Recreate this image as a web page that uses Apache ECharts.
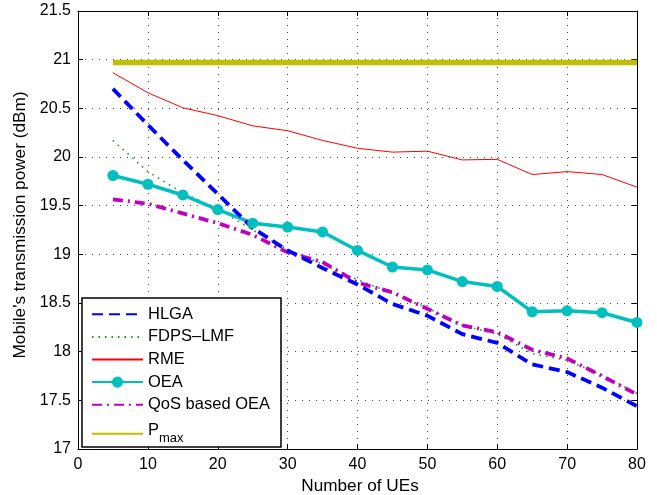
<!DOCTYPE html>
<html><head><meta charset="utf-8">
<script src="https://cdn.jsdelivr.net/npm/echarts@6/dist/echarts.min.js"></script>
<style>html,body{margin:0;padding:0;background:#fff}#c{width:657px;height:495px}</style>
</head><body><div id="c"></div>
<script>
const ues = [5,10,15,20,25,30,35,40,45,50,55,60,65,70,75,80];
const hlga = [20.70,20.33,19.97,19.62,19.27,19.04,18.86,18.69,18.49,18.37,18.18,18.09,17.87,17.79,17.63,17.44];
const fdps = [20.17,19.85,19.63,19.47,19.25,19.05,18.90,18.74,18.60,18.45,18.27,18.18,17.98,17.91,17.76,17.57];
const rme  = [20.866,20.66,20.506,20.425,20.32,20.27,20.17,20.09,20.05,20.06,19.97,19.976,19.82,19.85,19.82,19.69];
const oea  = [19.81,19.72,19.61,19.46,19.32,19.28,19.23,19.04,18.87,18.84,18.72,18.67,18.41,18.42,18.40,18.30];
const qos  = [19.565,19.52,19.42,19.32,19.20,19.02,18.92,18.71,18.61,18.44,18.27,18.20,18.02,17.93,17.75,17.56];
const pmax = ues.map(() => 20.97);
const yTicks = [17,17.5,18,18.5,19,19.5,20,20.5,21,21.5];

const pair = a => ues.map((x,i)=>[x,a[i]]);
const font = 'Liberation Sans, Arial, Helvetica, sans-serif';
const chart = echarts.init(document.getElementById('c'), null, {renderer:'canvas'});
const grid = {left:78, right:20, top:11, bottom:46, containLabel:false, outerBoundsMode:'none'};
const gridLine = {show:true, lineStyle:{color:'#444', type:[1,6], width:1}};
const clear = {color:'rgba(0,0,0,0)', borderWidth:0};
chart.setOption({
  animation:false,
  backgroundColor:'#fff',
  grid: grid,
  xAxis:[{
    type:'value', min:0, max:80, interval:10,
    name:'Number of UEs', nameLocation:'middle', nameGap:22.5,
    nameTextStyle:{fontFamily:font, fontSize:17.2, color:'#000', padding:[0,0,0,5]},
    axisLine:{show:true, onZero:false, lineStyle:{color:'#000', width:1}},
    axisTick:{show:true, inside:true, length:5, lineStyle:{color:'#000'}},
    axisLabel:{fontFamily:font, fontSize:16, color:'#000', margin:8},
    splitLine:gridLine
  },{
    type:'value', min:0, max:80, interval:10, position:'top',
    axisLine:{show:true, onZero:false, lineStyle:{color:'#000', width:1}},
    axisTick:{show:true, inside:true, length:5, lineStyle:{color:'#000'}},
    axisLabel:{show:false}, splitLine:{show:false}
  }],
  yAxis:[{
    type:'value', min:17, max:21.5, interval:0.5,
    name:"Mobile's transmission power (dBm)", nameLocation:'middle', nameGap:37,
    nameTextStyle:{fontFamily:font, fontSize:17.2, color:'#000', padding:[0,0,0,10]},
    axisLine:{show:true, onZero:false, lineStyle:{color:'#000', width:1}},
    axisTick:{show:true, inside:true, length:5, lineStyle:{color:'#000'}},
    axisLabel:{fontFamily:font, fontSize:16, color:'#000', margin:7,
      formatter: v => String(yTicks.find(t=>Math.abs(t-v)<1e-6) ?? v)},
    splitLine:gridLine
  },{
    type:'value', min:17, max:21.5, interval:0.5, position:'right',
    axisLine:{show:true, onZero:false, lineStyle:{color:'#000', width:1}},
    axisTick:{show:true, inside:true, length:5, lineStyle:{color:'#000'}},
    axisLabel:{show:false}, splitLine:{show:false}
  }],
  legend:{
    orient:'vertical', left:82, top:298,
    backgroundColor:'#fff', borderColor:'#000', borderWidth:1.5,
    padding:[5,11,2,9], itemGap:0, itemWidth:51, itemHeight:14,
    textStyle:{fontFamily:font, fontSize:16.5, color:'#000', lineHeight:22.6,
      rich:{
        p:{fontFamily:font, fontSize:16.5, color:'#000', lineHeight:22.6, verticalAlign:'top'},
        sub:{fontFamily:font, fontSize:13, color:'#000', lineHeight:13, padding:[16,0,0,0], verticalAlign:'bottom'}}},
    formatter: n => n==='Pmax' ? '{p|P}{sub|max}' : n,
    data:['HLGA','FDPS\u2013LMF','RME','OEA','QoS based OEA','Pmax']
  },
  series:[
    {name:'Pmax', type:'line', data:pair(pmax), symbol:'none', z:1,
      lineStyle:{color:'#bfbf00', width:5.5}, itemStyle:clear},
    {name:'RME', type:'line', data:pair(rme), symbol:'none',
      lineStyle:{color:'#ff0000', width:1}, itemStyle:clear},
    {name:'FDPS\u2013LMF', type:'line', data:pair(fdps), symbol:'none',
      lineStyle:{color:'#1f8f1f', width:1.6, type:[1.5,5]}, itemStyle:clear},
    {name:'OEA', type:'line', data:pair(oea), symbol:'circle', symbolSize:11,
      lineStyle:{color:'#00bfbf', width:3.5}, itemStyle:{color:'#00bfbf'}},
    {name:'QoS based OEA', type:'line', data:pair(qos), symbol:'none',
      lineStyle:{color:'#bf00bf', width:3.8, type:[10,5,2,5]}, itemStyle:clear},
    {name:'HLGA', type:'line', data:pair(hlga), symbol:'none',
      lineStyle:{color:'#0000ff', width:3.8, type:[11,6]}, itemStyle:clear}
  ]
});
</script></body></html>
